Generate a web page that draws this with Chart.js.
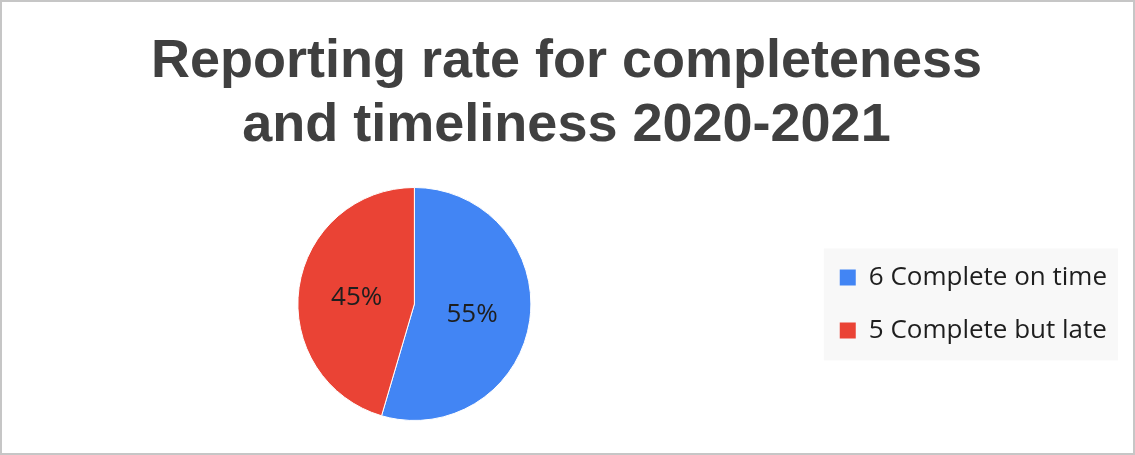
<!DOCTYPE html>
<html>
<head>
<meta charset="utf-8">
<script src="https://cdn.jsdelivr.net/npm/chart.js@4.4.1/dist/chart.umd.min.js"></script>
<style>
  html, body { margin: 0; padding: 0; background: #ffffff; }
  #wrap { width: 1135px; height: 455px; }
  canvas { display: block; }
</style>
</head>
<body>
<div id="wrap"><canvas id="chart" width="1135" height="455"></canvas></div>
<script>
// Report counts per category
const categories = ['Complete on time', 'Complete but late'];
const counts = [6, 5];
const sliceColors = ['#4285F4', '#EA4335'];
const titleLines = ['Reporting rate for completeness', 'and timeliness 2020-2021'];

const total = counts.reduce((a, b) => a + b, 0);

// White page with a thin grey frame
const framePlugin = {
  id: 'frame',
  beforeDraw(chart) {
    const { ctx, width, height } = chart;
    ctx.save();
    ctx.fillStyle = '#ffffff';
    ctx.fillRect(0, 0, width, height);
    ctx.restore();
  },
  afterDraw(chart) {
    const { ctx, width, height } = chart;
    ctx.save();
    ctx.strokeStyle = '#c6c6c6';
    ctx.lineWidth = 2;
    ctx.strokeRect(1, 1, width - 2, height - 2);
    ctx.restore();
  }
};

// Light panel behind the legend entries
const legendPanel = {
  id: 'legendPanel',
  beforeDraw(chart) {
    const boxes = chart.legend && chart.legend.legendHitBoxes;
    if (!boxes || !boxes.length) return;
    let l = Infinity, t = Infinity, r = -Infinity, b = -Infinity;
    boxes.forEach(h => {
      l = Math.min(l, h.left); t = Math.min(t, h.top);
      r = Math.max(r, h.left + h.width); b = Math.max(b, h.top + h.height);
    });
    const { ctx } = chart;
    ctx.save();
    ctx.fillStyle = '#f8f8f8';
    ctx.fillRect(l - 16, t - 16, (r - l) + 27, (b - t) + 33);
    ctx.restore();
  }
};

// Percentage labels inside each slice
const percentLabels = {
  id: 'percentLabels',
  afterDatasetsDraw(chart) {
    const { ctx } = chart;
    const meta = chart.getDatasetMeta(0);
    ctx.save();
    ctx.font = '26px "Open Sans"';
    ctx.fillStyle = '#1e1e1e';
    ctx.textAlign = 'center';
    ctx.textBaseline = 'middle';
    meta.data.forEach((arc, i) => {
      const p = arc.tooltipPosition();
      const pct = Math.round(counts[i] / total * 100) + '%';
      ctx.fillText(pct, p.x, p.y + 2);
    });
    ctx.restore();
  }
};

new Chart(document.getElementById('chart'), {
  type: 'pie',
  data: {
    labels: categories,
    datasets: [{
      data: counts,
      backgroundColor: sliceColors,
      borderColor: '#ffffff',
      borderWidth: 1,
      hoverOffset: 0
    }]
  },
  options: {
    responsive: false,
    animation: false,
    devicePixelRatio: 1,
    layout: { padding: { left: 16, right: 18, top: 0, bottom: 34 } },
    plugins: {
      title: {
        display: true,
        text: titleLines,
        color: '#404040',
        font: { family: '"Liberation Sans", Arial, sans-serif', size: 54, weight: 'bold', lineHeight: 1.185 },
        padding: { top: 30, bottom: 29 }
      },
      legend: {
        position: 'right',
        align: 'center',
        fullSize: false,
        labels: {
          color: '#1e1e1e',
          font: { family: '"Open Sans"', size: 26 },
          boxWidth: 16,
          boxHeight: 16,
          padding: 27,
          generateLabels(chart) {
            return categories.map((c, i) => ({
              text: counts[i] + ' ' + c,
              fillStyle: sliceColors[i],
              strokeStyle: sliceColors[i],
              lineWidth: 0,
              fontColor: '#1e1e1e',
              hidden: false,
              index: i
            }));
          }
        }
      },
      tooltip: { enabled: false }
    }
  },
  plugins: [framePlugin, legendPanel, percentLabels]
});
</script>
</body>
</html>
